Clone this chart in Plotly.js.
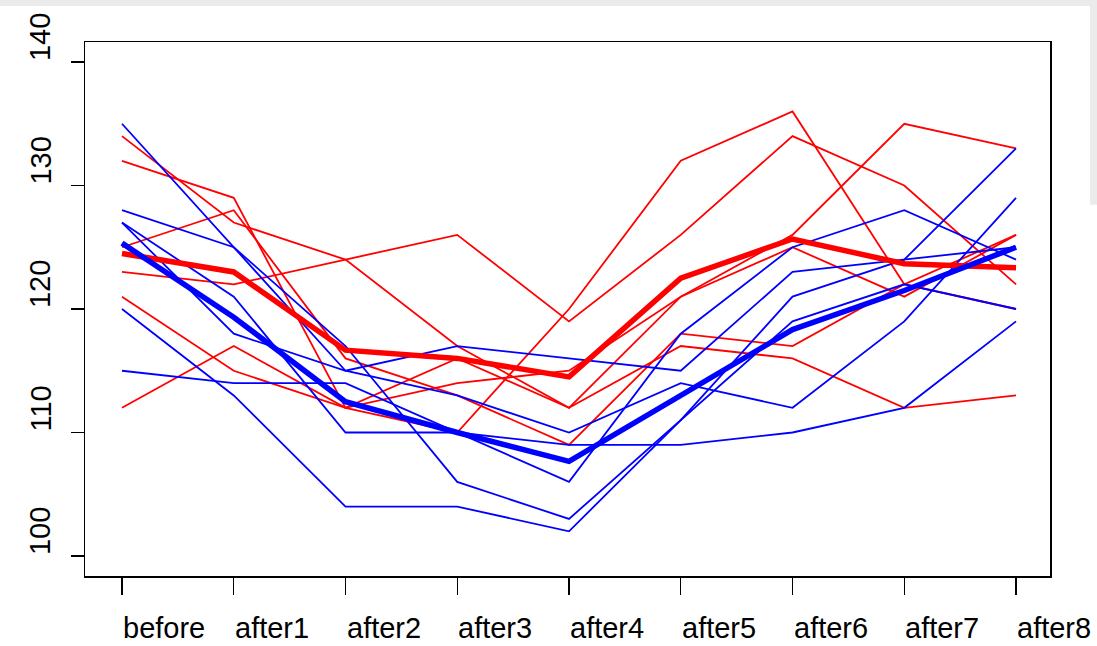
<!DOCTYPE html>
<html>
<head>
<meta charset="utf-8">
<script src="https://cdn.plot.ly/plotly-3.0.1.min.js"></script>
<style>
html,body{margin:0;padding:0;background:#fff;}
#chart{width:1097px;height:646px;}
</style>
</head>
<body>
<div id="chart"></div>
<script>
var categories = ["before","after1","after2","after3","after4","after5","after6","after7","after8"];
var yTicks = [100,110,120,130,140];

var red1 = [134,127,124,117,112,121,125,121,126];
var red2 = [132,129,112,116,112,117,116,112,113];
var red3 = [125,128,116,113,109,118,117,122,120];
var red4 = [123,122,124,126,119,126,134,130,122];
var red5 = [121,115,112,114,115,121,126,135,133];
var red6 = [112,117,112,110,120,132,136,122,126];

var blue1 = [135,125,115,113,110,114,112,119,129];
var blue2 = [128,125,117,106,103,111,119,122,120];
var blue3 = [127,121,110,110,109,109,110,112,119];
var blue4 = [127,118,115,117,116,115,123,124,125];
var blue5 = [120,113,104,104,102,111,121,124,133];
var blue6 = [115,114,114,110,106,118,125,128,124];

var redSeries = [red1,red2,red3,red4,red5,red6];
var blueSeries = [blue1,blue2,blue3,blue4,blue5,blue6];

function meanOf(series){
  return categories.map(function(_,i){
    var s=0; series.forEach(function(a){s+=a[i];}); return s/series.length;
  });
}
var xIdx = categories.map(function(_,i){return i;});

var traces = [];
redSeries.forEach(function(a){
  traces.push({x:xIdx,y:a,type:'scatter',mode:'lines',line:{color:'#ff0000',width:1.8},hoverinfo:'skip',showlegend:false});
});
blueSeries.forEach(function(a){
  traces.push({x:xIdx,y:a,type:'scatter',mode:'lines',line:{color:'#0000ff',width:1.8},hoverinfo:'skip',showlegend:false});
});
traces.push({x:xIdx,y:meanOf(redSeries),type:'scatter',mode:'lines',line:{color:'#ff0000',width:5.5},hoverinfo:'skip',showlegend:false});
traces.push({x:xIdx,y:meanOf(blueSeries),type:'scatter',mode:'lines',line:{color:'#0000ff',width:5.5},hoverinfo:'skip',showlegend:false});

var font = {family:'"Liberation Sans", Arial, sans-serif', size:29, color:'#000'};
var annotations = [];
categories.forEach(function(c,i){
  annotations.push({x:i, y:-0.0973, xref:'x', yref:'paper', text:c, showarrow:false,
    xanchor:'left', yanchor:'middle', borderpad:0, font:font});
});
yTicks.forEach(function(v){
  annotations.push({x:-0.0466, y:v, xref:'paper', yref:'y', text:String(v), showarrow:false,
    textangle:-90, xanchor:'center', yanchor:'bottom', borderpad:0, font:font});
});

var shapes = [
  {type:'rect', xref:'paper', yref:'paper', x0:-0.1, x1:1.06, y0:1.0674, y1:1.09, fillcolor:'#ebebeb', line:{width:0}, layer:'below'},
  {type:'rect', xref:'paper', yref:'paper', x0:1.0415, x1:1.06, y0:0.695, y1:1.09, fillcolor:'#ebebeb', line:{width:0}, layer:'below'}
];

var layout = {
  width:1097, height:646,
  margin:{l:85, r:47, t:42, b:70, pad:0},
  paper_bgcolor:'#ffffff', plot_bgcolor:'#ffffff',
  showlegend:false,
  xaxis:{range:[-0.331,8.304], showgrid:false, zeroline:false, showline:true, mirror:true,
    linecolor:'#000', linewidth:1.5, ticks:'outside', ticklen:17, tickwidth:1.2, tickcolor:'#000',
    tickvals:xIdx, showticklabels:false, fixedrange:true},
  yaxis:{range:[98.38,141.62], showgrid:false, zeroline:false, showline:true, mirror:true,
    linecolor:'#000', linewidth:1.5, ticks:'outside', ticklen:13, tickwidth:1.2, tickcolor:'#000',
    tickvals:yTicks, showticklabels:false, fixedrange:true},
  annotations:annotations,
  shapes:shapes
};

Plotly.newPlot('chart', traces, layout, {staticPlot:true, displayModeBar:false});
</script>
</body>
</html>
